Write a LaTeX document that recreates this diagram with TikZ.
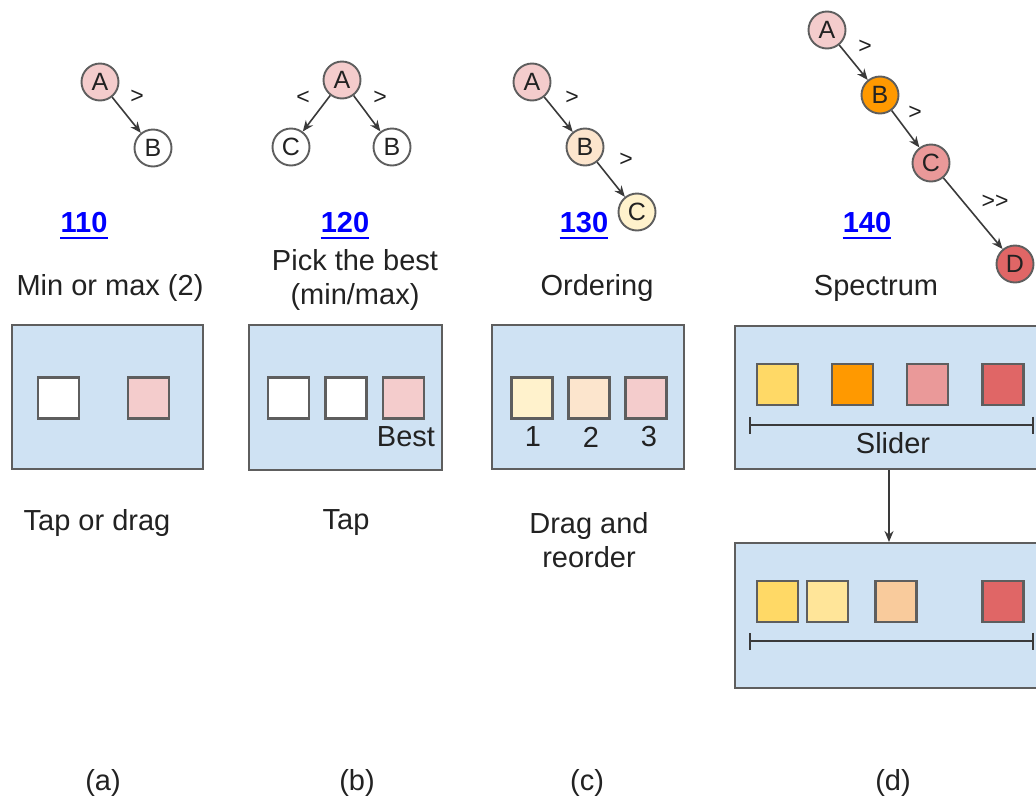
\documentclass[tikz,border=0pt]{standalone}
\usepackage{fontspec}
\setmainfont{Liberation Sans}
\usetikzlibrary{arrows.meta}

\definecolor{ink}{HTML}{222222}
\definecolor{edgegray}{HTML}{3A3A3A}
\definecolor{frame}{HTML}{5E5E5E}
\definecolor{panel}{HTML}{CFE2F3}
\definecolor{linkblue}{HTML}{0000FF}
\definecolor{pinklt}{HTML}{F4CCCC}
\definecolor{peachlt}{HTML}{FCE5CD}
\definecolor{yellowlt}{HTML}{FFF2CC}
\definecolor{yellowmd}{HTML}{FFD966}
\definecolor{yellowsoft}{HTML}{FFE599}
\definecolor{orangemd}{HTML}{FF9900}
\definecolor{peachmd}{HTML}{F9CB9C}
\definecolor{pinkmd}{HTML}{EA9999}
\definecolor{redmd}{HTML}{E06666}

\begin{document}
\begin{tikzpicture}[x=1pt,y=-1pt,
  txt/.style={font=\fontsize{29}{34}\selectfont, text=ink, inner sep=0pt},
  refnum/.style={font=\fontsize{29}{34}\selectfont\bfseries, text=linkblue, inner sep=0pt},
  vtx/.style={circle, draw=frame, line width=1.9pt, minimum size=37pt, inner sep=0pt,
              font=\fontsize{25}{28}\selectfont, text=ink},
  rel/.style={font=\fontsize{23}{26}\selectfont, text=ink, inner sep=0pt},
  conn/.style={draw=edgegray, line width=1.6pt, -{Stealth[length=11pt,width=9pt]}},
  panelbox/.style={draw=frame, fill=panel, line width=2pt, inner sep=0pt},
  tile/.style={draw=frame, line width=2.2pt, minimum size=41pt, inner sep=0pt},
  track/.style={draw=edgegray, line width=1.6pt, {Bar[width=17pt]}-{Bar[width=17pt]}}
]
\useasboundingbox (0,0) rectangle (1036,801);
\clip (0,0) rectangle (1036,801);

% ---------- (a) min or max ----------
\node[vtx, fill=pinklt] (aA) at (100,82) {A};
\node[vtx, fill=white]  (aB) at (153,148) {B};
\draw[conn] (aA) -- (aB);
\node[rel] (aR) at (137,97) {>};
\node[refnum] (n110) at (84,223) {110};
\draw[linkblue, line width=2.6pt] ([yshift=-5pt]n110.base west) -- ([yshift=-5pt]n110.base east);
\node[txt] (aT) at (110,288) {Min or max (2)};
\node[panelbox, minimum width=191pt, minimum height=144pt] (pa) at (107.5,397) {};
\node[tile, fill=white]  (a1) at (58.5,398) {};
\node[tile, fill=pinklt] (a2) at (148.5,398) {};
\node[txt] (aU) at (97,523) {Tap or drag};
\node[txt] (aL) at (103,783) {(a)};

% ---------- (b) pick the best ----------
\node[vtx, fill=pinklt] (bA) at (342,80) {A};
\node[vtx, fill=white]  (bC) at (291,147) {C};
\node[vtx, fill=white]  (bB) at (392,147) {B};
\draw[conn] (bA) -- (bC);
\draw[conn] (bA) -- (bB);
\node[rel] (bRl) at (303,98) {<};
\node[rel] (bRr) at (380,98) {>};
\node[refnum] (n120) at (345,223) {120};
\draw[linkblue, line width=2.6pt] ([yshift=-5pt]n120.base west) -- ([yshift=-5pt]n120.base east);
\node[txt, align=center] (bT) at (355,280) {Pick the best\\(min/max)};
\node[panelbox, minimum width=193pt, minimum height=145pt] (pb) at (345.5,397.5) {};
\node[tile, fill=white]  (b1) at (288.5,398) {};
\node[tile, fill=white]  (b2) at (346,398) {};
\node[tile, fill=pinklt] (b3) at (403.5,398) {};
\node[txt] (bBest) at (406,437) {Best};
\node[txt] (bU) at (346,523) {Tap};
\node[txt] (bL) at (357,783) {(b)};

% ---------- (c) ordering ----------
\node[vtx, fill=pinklt]   (cA) at (532,82) {A};
\node[vtx, fill=peachlt]  (cB) at (585,147) {B};
\node[vtx, fill=yellowlt] (cC) at (637,212) {C};
\draw[conn] (cA) -- (cB);
\draw[conn] (cB) -- (cC);
\node[rel] (cR1) at (572,98) {>};
\node[rel] (cR2) at (626,160) {>};
\node[refnum] (n130) at (584,223) {130};
\draw[linkblue, line width=2.6pt] ([yshift=-5pt]n130.base west) -- ([yshift=-5pt]n130.base east);
\node[txt] (cT) at (597,288) {Ordering};
\node[panelbox, minimum width=192pt, minimum height=144pt] (pc) at (588,397) {};
\node[tile, fill=yellowlt] (c1) at (532,398) {};
\node[tile, fill=peachlt]  (c2) at (589,398) {};
\node[tile, fill=pinklt]   (c3) at (646,398) {};
\node[txt] (c1n) at (533,437) {1};
\node[txt] (c2n) at (591,437) {2};
\node[txt] (c3n) at (649,437) {3};
\node[txt, align=center] (cU) at (589,540) {Drag and\\reorder};
\node[txt] (cL) at (587,783) {(c)};

% ---------- (d) spectrum ----------
\node[vtx, fill=pinklt]   (dA) at (827,30) {A};
\node[vtx, fill=orangemd] (dB) at (880,95) {B};
\node[vtx, fill=pinkmd]   (dC) at (931,163) {C};
\node[vtx, fill=redmd]    (dD) at (1015,264) {D};
\draw[conn] (dA) -- (dB);
\draw[conn] (dB) -- (dC);
\draw[conn] (dC) -- (dD);
\node[rel] (dR1) at (865,47) {>};
\node[rel] (dR2) at (915,113) {>};
\node[rel] (dR3) at (995,202) {>{}>};
\node[refnum] (n140) at (867,223) {140};
\draw[linkblue, line width=2.6pt] ([yshift=-5pt]n140.base west) -- ([yshift=-5pt]n140.base east);
\node[txt] (dT) at (876,288) {Spectrum};

% slider before the move
\node[panelbox, minimum width=400pt, minimum height=143pt] (pd1) at (935,397.5) {};
\node[tile, fill=yellowmd] (d11) at (777.5,384.5) {};
\node[tile, fill=orangemd] (d12) at (852.5,384.5) {};
\node[tile, fill=pinkmd]   (d13) at (927.5,384.5) {};
\node[tile, fill=redmd]    (d14) at (1003,384.5) {};
\coordinate (t1s) at (749,425);
\coordinate (t1e) at (1034,425);
\draw[track] (t1s) -- (t1e);
\node[txt] (dS) at (893,443) {Slider};

% slider after the move
\node[panelbox, minimum width=400pt, minimum height=145pt] (pd2) at (935,615.5) {};
\node[tile, fill=yellowmd]   (d21) at (777.5,601.5) {};
\node[tile, fill=yellowsoft] (d22) at (827.5,601.5) {};
\node[tile, fill=peachmd]    (d23) at (896,601.5) {};
\node[tile, fill=redmd]      (d24) at (1003,601.5) {};
\coordinate (t2s) at (749,641);
\coordinate (t2e) at (1034,641);
\draw[track] (t2s) -- (t2e);

\coordinate (drop) at (889,500);
\draw[conn] (pd1.south -| drop) -- (pd2.north -| drop);
\node[txt] (dL) at (893,783) {(d)};
\end{tikzpicture}
\end{document}
